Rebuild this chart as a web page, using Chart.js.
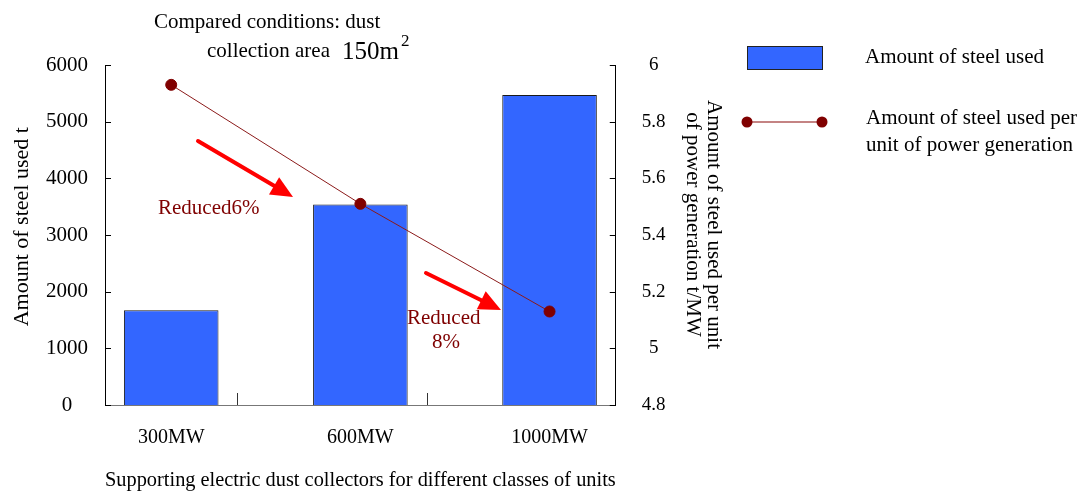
<!DOCTYPE html>
<html>
<head>
<meta charset="utf-8">
<script src="https://cdn.jsdelivr.net/npm/chart.js@4.4.1/dist/chart.umd.min.js"></script>
<style>
  html, body { margin: 0; padding: 0; background: #ffffff; }
  #wrap { width: 1084px; height: 491px; position: relative; }
</style>
</head>
<body>
<div id="wrap"><canvas id="c" width="1084" height="491"></canvas></div>
<script>
// ---- data ----
const categories = ['300MW', '600MW', '1000MW'];
const steelUsed = [1670, 3540, 5470];                 // t
const steelPerUnit = [5.93, 5.51, 5.13];              // t/MW
const leftTicks = [0, 1000, 2000, 3000, 4000, 5000, 6000];
const rightTicks = [4.8, 5.0, 5.2, 5.4, 5.6, 5.8, 6.0];
const seriesNames = ['Amount of steel used', 'Amount of steel used per unit of power generation'];

const SERIF = '"Liberation Serif", "Times New Roman", serif';
const BAR_BLUE = '#3366ff';
const LINE_RED = '#8b1a1a';
const DOT_RED = '#800000';
const NOTE_RED = '#7f0000';

function fmtRight(v) { return String(+Number(v).toFixed(1)); }

// custom drawing: inward tick marks, legend, annotations
const decor = {
  id: 'decor',
  afterDraw(chart) {
    const ctx = chart.ctx;
    const ca = chart.chartArea;
    const sx = chart.scales.x, sy = chart.scales.y, sy1 = chart.scales.y1;
    ctx.save();
    ctx.strokeStyle = '#000';
    ctx.lineWidth = 1;
    leftTicks.forEach(v => {
      const p = Math.round(sy.getPixelForValue(v)) + 0.5;
      ctx.beginPath(); ctx.moveTo(ca.left, p); ctx.lineTo(ca.left + 6, p); ctx.stroke();
    });
    rightTicks.forEach(v => {
      const p = Math.round(sy1.getPixelForValue(v)) + 0.5;
      ctx.beginPath(); ctx.moveTo(ca.right, p); ctx.lineTo(ca.right - 6, p); ctx.stroke();
    });
    ctx.strokeStyle = '#333';
    [0.35, 1.35].forEach(v => {
      const p = Math.round(sx.getPixelForValue(v)) + 0.5;
      ctx.beginPath(); ctx.moveTo(p, ca.bottom); ctx.lineTo(p, ca.bottom - 12); ctx.stroke();
    });

    // ---- legend ----
    const ds0 = chart.data.datasets[0], ds1 = chart.data.datasets[1];
    ctx.fillStyle = ds0.backgroundColor;
    ctx.fillRect(747, 46, 75, 23);
    ctx.strokeStyle = '#222';
    ctx.lineWidth = 1;
    ctx.strokeRect(747.5, 46.5, 75, 23);
    ctx.font = '21px ' + SERIF;
    ctx.fillStyle = '#000';
    ctx.textAlign = 'left';
    ctx.textBaseline = 'middle';
    ctx.fillText(seriesNames[0], 865, 57);
    ctx.strokeStyle = '#b05a5a';
    ctx.lineWidth = 1.5;
    ctx.beginPath(); ctx.moveTo(747, 122); ctx.lineTo(822, 122); ctx.stroke();
    ctx.fillStyle = ds1.pointBackgroundColor;
    [747, 822].forEach(x => { ctx.beginPath(); ctx.arc(x, 122, 5.5, 0, Math.PI * 2); ctx.fill(); });
    ctx.fillStyle = '#000';
    ctx.fillText('Amount of steel used per', 866, 118);
    ctx.fillText('unit of power generation', 866, 145);

    // ---- top note ----
    ctx.font = '21px ' + SERIF;
    ctx.fillText('Compared conditions: dust', 154, 22);
    ctx.fillText('collection area', 207, 51);
    ctx.font = '25px ' + SERIF;
    ctx.fillText('150m', 342, 52);
    ctx.font = '17px ' + SERIF;
    ctx.fillText('2', 401, 42);

    // ---- arrows ----
    function arrow(x1, y1, x2, y2) {
      const ang = Math.atan2(y2 - y1, x2 - x1);
      const hl = 22, hw = 10;
      const bx = x2 - hl * Math.cos(ang), by = y2 - hl * Math.sin(ang);
      ctx.strokeStyle = '#ff0000';
      ctx.fillStyle = '#ff0000';
      ctx.lineWidth = 4;
      ctx.lineCap = 'round';
      ctx.beginPath(); ctx.moveTo(x1, y1); ctx.lineTo(bx, by); ctx.stroke();
      ctx.beginPath();
      ctx.moveTo(x2, y2);
      ctx.lineTo(bx + hw * Math.sin(ang), by - hw * Math.cos(ang));
      ctx.lineTo(bx - hw * Math.sin(ang), by + hw * Math.cos(ang));
      ctx.closePath(); ctx.fill();
    }
    arrow(198, 141, 293, 197);
    arrow(426, 273, 501, 310);

    // ---- reduction labels ----
    ctx.fillStyle = NOTE_RED;
    ctx.font = '21px ' + SERIF;
    ctx.textAlign = 'left';
    ctx.fillText('Reduced6%', 158, 208);
    ctx.fillText('Reduced', 407, 318);
    ctx.fillText('8%', 432, 342);
    ctx.restore();
  }
};

new Chart(document.getElementById('c'), {
  type: 'bar',
  data: {
    datasets: [
      {
        type: 'bar',
        label: seriesNames[0],
        data: categories.map((c, i) => ({ x: i, y: steelUsed[i] })),
        backgroundColor: BAR_BLUE,
        borderColor: '#1a1a1a',
        borderWidth: 1,
        barPercentage: 0.5,
        categoryPercentage: 1.0,
        yAxisID: 'y',
        order: 2
      },
      {
        type: 'line',
        label: seriesNames[1],
        data: categories.map((c, i) => ({ x: i, y: steelPerUnit[i] })),
        borderColor: LINE_RED,
        borderWidth: 1,
        pointBackgroundColor: DOT_RED,
        pointBorderColor: DOT_RED,
        pointRadius: 5.5,
        pointHoverRadius: 5.5,
        tension: 0,
        yAxisID: 'y1',
        order: 1
      }
    ]
  },
  options: {
    responsive: false,
    animation: false,
    events: [],
    layout: { padding: { top: 65, left: 11, right: 360, bottom: 0 } },
    plugins: { legend: { display: false }, tooltip: { enabled: false } },
    scales: {
      x: {
        type: 'linear',
        offset: false,
        min: -0.35,
        max: 2.35,
        afterBuildTicks: s => { s.ticks = categories.map((c, i) => ({ value: i })); },
        ticks: {
          autoSkip: false,
          maxRotation: 0,
          padding: 29,
          color: '#000',
          font: { family: SERIF, size: 20, lineHeight: 0.35 },
          callback: v => categories[v]
        },
        grid: { display: false, drawTicks: false, offset: false },
        border: { display: true, color: '#777', width: 1 },
        title: {
          display: true,
          text: 'Supporting electric dust collectors for different classes of units',
          color: '#000',
          font: { family: SERIF, size: 21, lineHeight: 1.0 },
          padding: { top: 0, bottom: 0 }
        }
      },
      y: {
        type: 'linear',
        position: 'left',
        min: 0,
        max: 6000,
        afterBuildTicks: s => { s.ticks = leftTicks.map(v => ({ value: v })); },
        ticks: {
          padding: 17,
          crossAlign: 'center',
          color: '#000',
          font: { family: SERIF, size: 21 },
          callback: v => String(v)
        },
        grid: { display: false, drawTicks: false },
        border: { display: true, color: '#000', width: 1 },
        title: {
          display: true,
          text: '   Amount of steel used t',
          color: '#000',
          font: { family: SERIF, size: 22, lineHeight: 1.0 },
          padding: { top: 0, bottom: -4 }
        }
      },
      y1: {
        type: 'linear',
        position: 'right',
        min: 4.8,
        max: 6.0,
        afterBuildTicks: s => { s.ticks = rightTicks.map(v => ({ value: v })); },
        ticks: {
          padding: 26,
          crossAlign: 'center',
          color: '#000',
          font: { family: SERIF, size: 19 },
          callback: v => fmtRight(v)
        },
        grid: { display: false, drawTicks: false },
        border: { display: true, color: '#000', width: 1 },
        title: {
          display: true,
          text: ['Amount of steel used per unit    ', 'of power generation t/MW    '],
          color: '#000',
          font: { family: SERIF, size: 21, lineHeight: 1.0 },
          padding: { top: 0, bottom: -9.5 }
        }
      }
    }
  },
  plugins: [decor]
});
</script>
</body>
</html>
